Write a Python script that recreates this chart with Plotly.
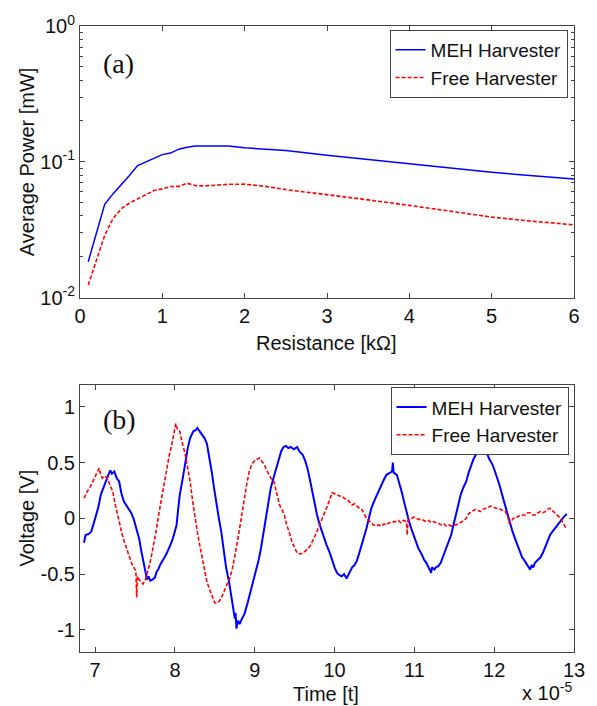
import plotly.graph_objects as go

# ---------------- Data: (a) average power vs resistance ----------------
res_kohm = [0.1, 0.2, 0.3, 0.4, 0.5, 0.6, 0.7, 0.8, 0.9, 1.0, 1.1, 1.2, 1.3,
            1.4, 1.5, 1.6, 1.8, 2.0, 2.25, 2.5, 3.0, 3.5, 4.0, 4.5, 5.0, 5.5, 6.0]
meh_power = [0.0184, 0.0299, 0.0486, 0.0581, 0.0676, 0.0792, 0.0938, 0.100, 0.1066,
             0.113, 0.116, 0.124, 0.128, 0.1306, 0.131, 0.131, 0.1306, 0.127, 0.124,
             0.121, 0.112, 0.104, 0.0964, 0.090, 0.0838, 0.079, 0.0748]
free_power = [0.0124, 0.0189, 0.0288, 0.0381, 0.0451, 0.0497, 0.0534, 0.0571, 0.0615,
              0.0632, 0.0658, 0.066, 0.0696, 0.0669, 0.0665, 0.067, 0.0683, 0.0685, 0.066,
              0.0625, 0.0575, 0.0525, 0.0478, 0.0435, 0.0392, 0.0365, 0.0344]

# ---------------- Data: (b) voltage vs time (x 1e-5) ----------------
meh_t = [6.86, 6.88, 6.92, 6.95, 6.98, 7.01, 7.04, 7.07, 7.10, 7.13, 7.16, 7.19, 7.21, 7.24,
         7.27, 7.30, 7.33, 7.36, 7.39, 7.42, 7.45, 7.48, 7.52, 7.55, 7.58, 7.61, 7.65, 7.67,
         7.69, 7.72, 7.75, 7.77, 7.79, 7.82, 7.84, 7.87, 7.90, 7.93, 7.96, 7.99, 8.02, 8.04,
         8.06, 8.10, 8.13, 8.16, 8.19, 8.23, 8.26, 8.28, 8.31, 8.33, 8.37, 8.40, 8.43, 8.46,
         8.49, 8.52, 8.55, 8.58, 8.61, 8.64, 8.68, 8.71, 8.73, 8.75, 8.76, 8.77, 8.79, 8.81,
         8.84, 8.87, 8.91, 8.95, 8.98, 9.02, 9.05, 9.08, 9.11, 9.14, 9.17, 9.20, 9.23, 9.26,
         9.29, 9.33, 9.36, 9.39, 9.42, 9.45, 9.49, 9.53, 9.56, 9.60, 9.63, 9.66, 9.69, 9.72,
         9.75, 9.78, 9.81, 9.84, 9.87, 9.90, 9.94, 9.97, 10.00, 10.03, 10.06, 10.09, 10.12,
         10.15, 10.18, 10.22, 10.25, 10.28, 10.31, 10.34, 10.37, 10.40, 10.43, 10.46, 10.50,
         10.53, 10.56, 10.59, 10.62, 10.65, 10.69, 10.72, 10.73, 10.74, 10.78, 10.81, 10.84,
         10.87, 10.90, 10.93, 10.96, 10.99, 11.02, 11.05, 11.09, 11.12, 11.15, 11.18, 11.21,
         11.22, 11.25, 11.27, 11.30, 11.33, 11.36, 11.40, 11.43, 11.46, 11.49, 11.52, 11.55,
         11.58, 11.61, 11.65, 11.68, 11.71, 11.74, 11.77, 11.81, 11.85, 11.88, 11.91, 11.94,
         11.98, 12.01, 12.04, 12.07, 12.10, 12.13, 12.16, 12.19, 12.23, 12.26, 12.29, 12.32,
         12.35, 12.38, 12.41, 12.43, 12.45, 12.47, 12.49, 12.51, 12.54, 12.58, 12.61, 12.64,
         12.67, 12.70, 12.73, 12.76, 12.79, 12.83, 12.87, 12.91]
meh_v = [-0.22, -0.15, -0.14, -0.12, -0.05, 0.03, 0.10, 0.21, 0.27, 0.33, 0.38, 0.43, 0.40, 0.42,
         0.36, 0.33, 0.22, 0.15, 0.12, 0.09, 0.05, 0.00, -0.10, -0.18, -0.30, -0.41, -0.55, -0.52,
         -0.56, -0.55, -0.53, -0.48, -0.46, -0.41, -0.38, -0.35, -0.31, -0.26, -0.21, -0.14, -0.06, 0.08,
         0.21, 0.37, 0.51, 0.63, 0.72, 0.78, 0.79, 0.81, 0.78, 0.76, 0.72, 0.67, 0.56, 0.42,
         0.27, 0.12, 0.00, -0.12, -0.27, -0.44, -0.58, -0.71, -0.80, -0.90, -0.85, -0.99, -0.92, -0.95,
         -0.90, -0.86, -0.76, -0.65, -0.57, -0.47, -0.37, -0.26, -0.12, 0.03, 0.15, 0.27, 0.35, 0.42,
         0.50, 0.60, 0.64, 0.65, 0.63, 0.64, 0.62, 0.64, 0.60, 0.57, 0.52, 0.45, 0.35, 0.24,
         0.13, 0.03, -0.05, -0.12, -0.18, -0.24, -0.31, -0.38, -0.44, -0.49, -0.51, -0.52, -0.50,
         -0.54, -0.49, -0.44, -0.42, -0.38, -0.31, -0.24, -0.17, -0.09, 0.00, 0.09, 0.16,
         0.21, 0.26, 0.30, 0.35, 0.39, 0.41, 0.42, 0.50, 0.41, 0.39, 0.32, 0.24,
         0.15, 0.06, -0.02, -0.09, -0.15, -0.21, -0.27, -0.32, -0.37, -0.40, -0.44, -0.49,
         -0.44, -0.46, -0.44, -0.43, -0.40, -0.34, -0.26, -0.21, -0.15, -0.06, 0.03, 0.12,
         0.21, 0.27, 0.33, 0.41, 0.48, 0.53, 0.57, 0.59, 0.61, 0.60, 0.58, 0.53,
         0.48, 0.42, 0.36, 0.29, 0.21, 0.13, 0.06, -0.03, -0.12, -0.18, -0.24, -0.30,
         -0.35, -0.38, -0.41, -0.44, -0.46, -0.42, -0.44, -0.40, -0.38, -0.35, -0.31, -0.26,
         -0.20, -0.15, -0.12, -0.09, -0.06, -0.03, 0.01, 0.04]

free_t = [6.86, 6.88, 6.90, 6.93, 6.97, 7.00, 7.03, 7.05, 7.07, 7.09, 7.12, 7.15, 7.18, 7.22,
          7.25, 7.28, 7.31, 7.34, 7.37, 7.40, 7.43, 7.46, 7.49, 7.51, 7.52, 7.53, 7.55, 7.58,
          7.60, 7.63, 7.65, 7.68, 7.71, 7.74, 7.77, 7.80, 7.84, 7.87, 7.90, 7.93, 7.96, 7.99,
          8.01, 8.03, 8.06, 8.09, 8.13, 8.16, 8.19, 8.22, 8.25, 8.28, 8.31, 8.34, 8.37, 8.40,
          8.44, 8.47, 8.50, 8.53, 8.56, 8.59, 8.62, 8.65, 8.69, 8.72, 8.75, 8.78, 8.81, 8.84,
          8.87, 8.90, 8.93, 8.96, 9.00, 9.03, 9.06, 9.09, 9.12, 9.15, 9.18, 9.21, 9.24, 9.27,
          9.31, 9.34, 9.37, 9.40, 9.43, 9.47, 9.50, 9.53, 9.57, 9.61, 9.64, 9.67, 9.70, 9.73,
          9.76, 9.79, 9.82, 9.85, 9.88, 9.91, 9.93, 9.95, 9.97, 10.00, 10.03, 10.06, 10.09,
          10.12, 10.16, 10.19, 10.22, 10.25, 10.28, 10.31, 10.34, 10.37, 10.40, 10.43, 10.46,
          10.49, 10.52, 10.55, 10.59, 10.62, 10.65, 10.68, 10.71, 10.74, 10.77, 10.80, 10.83,
          10.86, 10.90, 10.91, 10.92, 10.96, 10.99, 11.02, 11.05, 11.09, 11.12, 11.15, 11.18,
          11.21, 11.24, 11.27, 11.30, 11.34, 11.37, 11.40, 11.43, 11.46, 11.49, 11.52, 11.55,
          11.58, 11.62, 11.65, 11.68, 11.71, 11.74, 11.77, 11.80, 11.83, 11.86, 11.89, 11.92,
          11.96, 11.99, 12.02, 12.05, 12.08, 12.11, 12.14, 12.17, 12.19, 12.21, 12.24, 12.27,
          12.30, 12.33, 12.36, 12.39, 12.42, 12.45, 12.48, 12.52, 12.55, 12.58, 12.61, 12.64,
          12.67, 12.70, 12.73, 12.76, 12.79, 12.83, 12.87, 12.91]
free_v = [0.18, 0.22, 0.24, 0.27, 0.33, 0.38, 0.43, 0.45, 0.39, 0.36, 0.38, 0.36, 0.31, 0.24,
          0.13, 0.03, -0.06, -0.15, -0.22, -0.29, -0.36, -0.41, -0.45, -0.47, -0.71, -0.52, -0.55, -0.58,
          -0.59, -0.55, -0.50, -0.42, -0.32, -0.21, -0.09, 0.05, 0.21, 0.35, 0.48, 0.57, 0.66, 0.76,
          0.85, 0.80, 0.78, 0.68, 0.57, 0.45, 0.33, 0.16, 0.00, -0.12, -0.24, -0.36, -0.47, -0.57,
          -0.65, -0.71, -0.76, -0.76, -0.74, -0.70, -0.65, -0.59, -0.53, -0.45, -0.35, -0.22, -0.09, 0.05,
          0.18, 0.31, 0.42, 0.48, 0.52, 0.53, 0.54, 0.51, 0.48, 0.43, 0.39, 0.35, 0.33, 0.24,
          0.12, 0.08, 0.03, -0.06, -0.12, -0.22, -0.27, -0.31, -0.32, -0.31, -0.29, -0.27, -0.24, -0.20,
          -0.15, -0.10, -0.04, 0.01, 0.06, 0.11, 0.15, 0.19, 0.23, 0.22, 0.21, 0.20, 0.20,
          0.18, 0.17, 0.14, 0.12, 0.13, 0.11, 0.09, 0.08, 0.04, 0.00, -0.02, -0.04,
          -0.06, -0.07, -0.06, -0.07, -0.05, -0.06, -0.04, -0.04, -0.03, -0.03, -0.02, -0.04,
          -0.02, -0.03, -0.15, -0.02, 0.00, 0.01, 0.00, -0.01, -0.01, -0.02, -0.03, -0.02,
          -0.04, -0.03, -0.04, -0.05, -0.06, -0.05, -0.07, -0.06, -0.07, -0.06, -0.06, -0.05,
          -0.04, -0.02, 0.00, 0.04, 0.06, 0.07, 0.08, 0.07, 0.06, 0.08, 0.09, 0.10,
          0.11, 0.10, 0.09, 0.09, 0.08, 0.07, 0.06, 0.02, -0.05, -0.03, 0.00, 0.00,
          0.02, 0.02, 0.03, 0.03, 0.05, 0.05, 0.03, 0.03, 0.05, 0.06, 0.05, 0.06,
          0.08, 0.09, 0.07, 0.05, 0.03, 0.00, -0.05, -0.10]

# tick labels
power_tickvals = [0.01, 0.1, 1]
power_ticktext = ["10<sup>-2</sup>", "10<sup>-1</sup>", "10<sup>0</sup>"]
volt_tickvals = [-1, -0.5, 0, 0.5, 1]
volt_ticktext = ["-1", "-0.5", "0", "0.5", "1"]
time_tickvals = [7, 8, 9, 10, 11, 12, 13]
res_tickvals = [0, 1, 2, 3, 4, 5, 6]

minor_power = [m * d for d in (0.01, 0.1) for m in range(2, 10)]

SANS = "Liberation Sans, Arial, sans-serif"
SERIF = "Liberation Serif, Times New Roman, serif"
AXC = "#444444"
FS = 20
LFS = 19

fig = go.Figure()
fig.add_trace(go.Scatter(x=res_kohm, y=meh_power, mode="lines", name="MEH Harvester",
                         line=dict(color="#0000ff", width=1.5), xaxis="x", yaxis="y", legend="legend"))
fig.add_trace(go.Scatter(x=res_kohm, y=free_power, mode="lines", name="Free Harvester",
                         line=dict(color="#ff0000", width=1.6, dash="4px,2px"), xaxis="x", yaxis="y",
                         legend="legend"))
fig.add_trace(go.Scatter(x=meh_t, y=meh_v, mode="lines", name="MEH Harvester",
                         line=dict(color="#0000ff", width=2), xaxis="x2", yaxis="y2", legend="legend2"))
fig.add_trace(go.Scatter(x=free_t, y=free_v, mode="lines", name="Free Harvester",
                         line=dict(color="#ff0000", width=1.6, dash="4px,2px"), xaxis="x2", yaxis="y2",
                         legend="legend2"))

axis_common = dict(showline=True, linecolor=AXC, linewidth=1, mirror="ticks", ticks="inside",
                   ticklen=5, tickcolor=AXC, showgrid=False, zeroline=False,
                   tickfont=dict(family=SANS, size=FS, color="#111111"))

fig.update_layout(
    width=597, height=706, autosize=False,
    paper_bgcolor="white", plot_bgcolor="white",
    margin=dict(l=80, r=15, t=23, b=54),
    xaxis=dict(domain=[0, 1], anchor="y", range=[0, 6], tickmode="array", tickvals=res_tickvals,
               **axis_common),
    yaxis=dict(domain=[0.566, 1], anchor="x", type="log", range=[-2, 0], tickmode="array",
               tickvals=power_tickvals, ticktext=power_ticktext,
               minor=dict(tickmode="array", tickvals=minor_power, ticks="inside", ticklen=3,
                          tickcolor=AXC),
               **axis_common),
    xaxis2=dict(domain=[0, 1], anchor="y2", range=[6.81, 13], tickmode="array",
                tickvals=time_tickvals, **axis_common),
    yaxis2=dict(domain=[0, 0.4272], anchor="x2", range=[-1.2, 1.2], tickmode="array",
                tickvals=volt_tickvals, ticktext=volt_ticktext, **axis_common),
    legend=dict(x=0.987, y=0.9936, xanchor="right", yanchor="top", bgcolor="white",
                bordercolor=AXC, borderwidth=1, font=dict(family=SANS, size=LFS, color="#111111"),
                tracegroupgap=0),
    legend2=dict(x=0.989, y=0.4229, xanchor="right", yanchor="top", bgcolor="white",
                 bordercolor=AXC, borderwidth=1, font=dict(family=SANS, size=LFS, color="#111111"),
                 tracegroupgap=0),
    showlegend=True,
)

W, H = 502.0, 629.0


def px(xp):
    return (xp - 80) / W


def py(yp):
    return 1 - (yp - 23) / H


annots = [
    dict(text="(a)", x=px(119), y=py(61), font=dict(family=SERIF, size=28, color="#111111")),
    dict(text="(b)", x=px(120), y=py(418), font=dict(family=SERIF, size=28, color="#111111")),
    dict(text="Average Power [mW]", x=px(27), y=py(159), textangle=-90,
         font=dict(family=SANS, size=FS, color="#111111")),
    dict(text="Resistance [kΩ]", x=px(330), y=py(342), font=dict(family=SANS, size=FS, color="#111111")),
    dict(text="Voltage [V]", x=px(26), y=py(517), textangle=-90,
         font=dict(family=SANS, size=FS, color="#111111")),
    dict(text="Time [t]", x=px(330), y=py(694), font=dict(family=SANS, size=FS, color="#111111")),
]
for a in annots:
    fig.add_annotation(xref="paper", yref="paper", showarrow=False, xanchor="center",
                       yanchor="middle", **a)
fig.add_annotation(xref="paper", yref="paper", showarrow=False, xanchor="right", yanchor="bottom",
                   x=px(582), y=py(706), text="x 10<sup>-5</sup>",
                   font=dict(family=SANS, size=FS, color="#111111"))

fig.write_html("out.html")
